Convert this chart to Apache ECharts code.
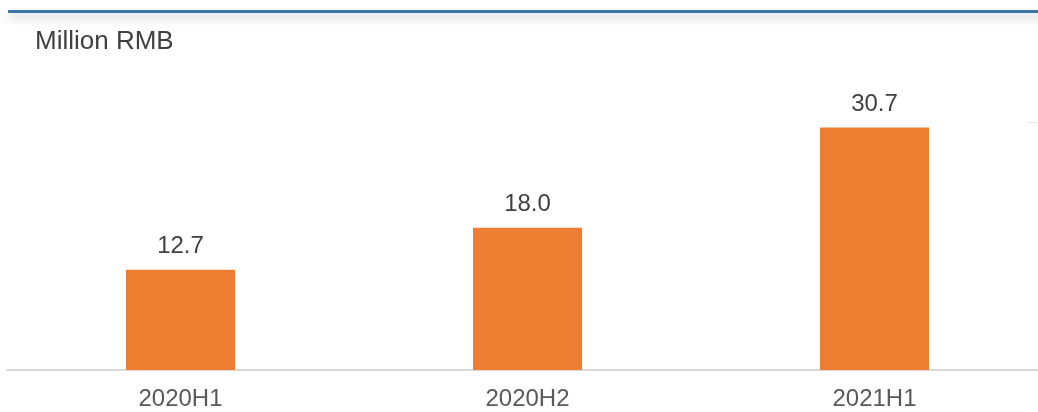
<!DOCTYPE html>
<html><head><meta charset="utf-8">
<script src="https://cdn.jsdelivr.net/npm/echarts@6/dist/echarts.min.js"></script>
<style>html,body{margin:0;padding:0;background:#fff}#c{width:1038px;height:412px}</style>
</head><body><div id="c"></div>
<script>
const categories = ['2020H1', '2020H2', '2021H1'];
const values = [12.7, 18.0, 30.7];
const unitLabel = 'Million RMB';

const chart = echarts.init(document.getElementById('c'));
chart.setOption({
  animation: false,
  textStyle: { fontFamily: 'Liberation Sans, Arial, sans-serif' },
  graphic: [
    { type: 'rect', left: 8, top: 10, shape: { width: 1040, height: 3 },
      style: { fill: '#3f74aa', shadowBlur: 8, shadowOffsetY: 5, shadowColor: 'rgba(0,0,0,0.25)' } },
    { type: 'text', left: 35, top: 29, style: { text: unitLabel, fill: '#404040', font: '26px Liberation Sans, Arial, sans-serif' } },
    { type: 'rect', left: 1028, top: 122, shape: { width: 10, height: 1 }, style: { fill: '#e4e8ef' } }
  ],
  grid: { left: 7, width: 1041, top: 54, bottom: 42, outerBoundsMode: 'none', containLabel: false },
  xAxis: {
    type: 'category', data: categories,
    axisLine: { lineStyle: { color: '#d9d9d9', width: 2 } },
    axisTick: { show: false },
    axisLabel: { color: '#595959', fontSize: 24, margin: 17 }
  },
  yAxis: { type: 'value', min: 0, max: 40, show: false, splitLine: { show: false } },
  series: [{
    type: 'bar', data: values, barWidth: 109,
    itemStyle: { color: '#ed7d31' },
    label: { show: true, position: 'top', distance: 11, color: '#404040', fontSize: 24,
      formatter: p => p.value.toFixed(1) }
  }]
});
</script></body></html>
